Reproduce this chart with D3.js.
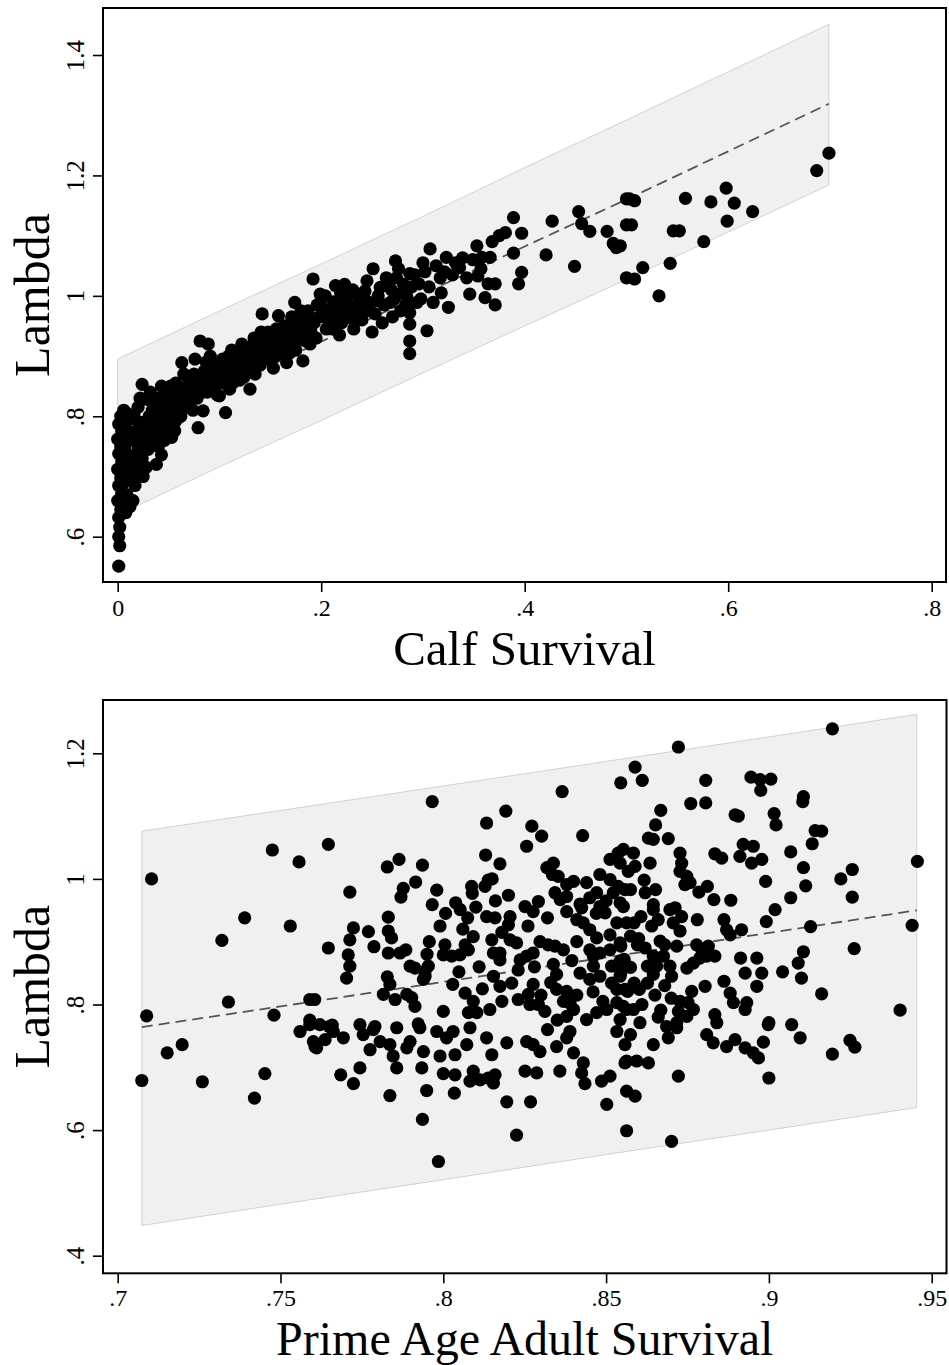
<!DOCTYPE html>
<html>
<head>
<meta charset="utf-8">
<script src="https://cdnjs.cloudflare.com/ajax/libs/d3/7.8.5/d3.min.js"></script>
<style>
body { margin: 0; background: #fff; }
text { font-family: "Liberation Serif", "Times New Roman", serif; fill: #000; }
</style>
</head>
<body>
<svg width="949" height="1365"></svg>
<script>
// ---- data ----
var calfTicksX = [0, 0.2, 0.4, 0.6, 0.8];
var calfTicksY = [0.6, 0.8, 1.0, 1.2, 1.4];
var primeTicksX = [0.70, 0.75, 0.80, 0.85, 0.90, 0.95];
var primeTicksY = [0.4, 0.6, 0.8, 1.0, 1.2];

// prediction band / fitted line, top panel
var calfBandX = [0, 0.1, 0.2, 0.3, 0.4, 0.5, 0.6, 0.699];
var calfBandHi = [0.895, 0.975, 1.053, 1.132, 1.213, 1.292, 1.372, 1.451];
var calfBandLo = [0.636, 0.716, 0.793, 0.872, 0.950, 1.027, 1.106, 1.184];
var calfFit = [0.766, 0.845, 0.924, 1.003, 1.082, 1.160, 1.240, 1.319];

// prediction band / fitted line, bottom panel
var primeBandX = [0.7074, 0.75, 0.80, 0.85, 0.90, 0.9454];
var primeBandHi = [1.076, 1.109, 1.148, 1.187, 1.226, 1.262];
var primeBandLo = [0.448, 0.482, 0.521, 0.561, 0.600, 0.636];
var primeFit = [0.764, 0.797, 0.836, 0.875, 0.914, 0.950];

// [calf survival, lambda]
var calfPoints = [
[.001,.551],[.002,.585],[.001,.600],[.002,.616],[.001,.632],[.003,.645],[.000,.660],[.004,.672],[.001,.685],[.003,.698],[.000,.712],[.004,.725],[.001,.738],[.003,.750],[.000,.762],[.004,.775],[.001,.787],[.003,.800],[.006,.810],
[.008,.640],[.007,.655],[.009,.670],[.006,.690],[.010,.705],[.008,.720],[.011,.735],[.007,.750],[.010,.765],[.008,.780],[.012,.795],[.009,.805],
[.015,.660],[.017,.685],[.014,.700],[.019,.715],[.016,.730],[.020,.745],[.015,.760],[.018,.775],[.021,.790],[.016,.800],[.020,.815],[.022,.830],
[.025,.700],[.028,.715],[.024,.730],[.030,.745],[.027,.760],[.033,.775],[.026,.790],[.031,.800],[.029,.828],[.024,.853],[.034,.810],[.032,.840],
[.038,.720],[.043,.736],[.040,.750],[.046,.760],[.038,.775],[.044,.790],[.041,.805],[.048,.815],[.043,.850],[.039,.830],[.047,.840],[.050,.780],
[.053,.765],[.056,.776],[.058,.795],[.055,.810],[.062,.800],[.060,.825],[.066,.815],[.063,.840],[.057,.855],[.068,.850],[.063,.889],[.065,.870],[.070,.830],[.052,.835],
[.074,.810],[.079,.781],[.084,.809],[.072,.845],[.078,.830],[.082,.855],[.088,.840],[.075,.870],[.085,.875],[.081,.925],[.089,.920],[.093,.860],[.095,.885],[.098,.835],[.091,.900],[.076,.895],
[.106,.806],[.100,.834],[.104,.855],[.110,.845],[.115,.870],[.108,.885],[.120,.860],[.118,.895],[.125,.880],[.112,.910],[.128,.905],[.130,.845],[.122,.920],
[.135,.870],[.140,.885],[.138,.905],[.145,.895],[.150,.910],[.143,.925],[.155,.900],[.148,.940],[.158,.920],[.142,.970],[.158,.967],[.153,.880],[.160,.945],
[.166,.889],[.182,.892],[.165,.915],[.170,.930],[.175,.910],[.174,.989],[.178,.945],[.185,.925],[.172,.955],[.188,.960],[.180,.975],[.186,.953],[.190,.940],
[.192,1.028],[.199,1.003],[.200,.983],[.215,.970],[.209,.958],[.214,1.017],[.195,.930],[.205,.945],[.212,.990],[.218,.935],[.198,.965],[.220,.955],
[.223,1.019],[.228,1.003],[.228,.964],[.245,1.025],[.243,1.008],[.236,.986],[.248,.975],[.255,.992],[.258,1.014],[.232,.945],[.240,.960],[.250,.940],[.260,.955],[.251,1.045],
[.266,1.019],[.274,1.030],[.281,1.019],[.284,1.000],[.294,.989],[.268,.989],[.273,1.058],[.287,1.037],[.287,.972],[.287,.953],[.287,.925],[.287,.904],[.270,.965],[.278,.975],[.300,1.055],
[.304,.942],[.307,1.078],[.310,.989],[.317,1.030],[.323,1.064],[.325,.981],[.336,1.047],[.339,1.063],[.346,1.003],[.353,1.083],[.354,1.033],[.358,1.064],[.361,.997],[.366,1.064],[.371,1.020],[.371,.985],[.375,1.100],[.381,1.105],[.389,1.130],[.389,1.071],[.394,1.020],[.397,1.104],[.397,1.039],
[.421,1.068],[.427,1.124],[.449,1.049],[.453,1.140],[.456,1.120],[.464,1.107],[.481,1.107],[.487,1.087],[.490,1.080],[.494,1.083],[.500,1.161],[.500,1.118],[.500,1.030],[.503,1.161],[.505,1.118],[.508,1.158],[.508,1.028],[.516,1.047],[.532,1.000],[.543,1.054],[.546,1.108],[.552,1.108],[.558,1.162],[.576,1.090],[.583,1.156],[.598,1.179],[.599,1.124],[.606,1.154],[.624,1.140],[.687,1.208],[.699,1.237],
[.012,.650],[.013,.720],[.005,.700],[.018,.700],[.022,.760],[.026,.745],[.029,.775],[.035,.760],[.035,.790],[.037,.820],[.045,.775],[.049,.800],[.050,.825],[.052,.850],[.056,.790],[.059,.810],[.061,.840],[.067,.830],[.069,.865],[.071,.815],[.073,.860],[.077,.850],[.080,.865],[.083,.840],[.086,.855],[.087,.890],[.090,.870],[.092,.845],[.096,.870],[.099,.855],
[.101,.875],[.103,.895],[.107,.865],[.109,.900],[.113,.855],[.116,.885],[.119,.875],[.121,.905],[.124,.865],[.127,.890],[.131,.915],[.133,.885],[.134,.930],[.137,.895],[.139,.920],[.141,.940],[.144,.910],[.147,.925],[.149,.895],[.152,.930],[.156,.945],[.159,.905],[.162,.930],[.164,.950],[.167,.940],[.169,.905],[.171,.965],[.176,.925],[.179,.960],[.181,.935],[.184,.945],[.187,.975],[.189,.920],[.193,.955],[.196,.985],
[.202,.965],[.204,1.000],[.207,.975],[.211,.945],[.216,.990],[.219,1.005],[.221,.975],[.225,.990],[.229,.980],[.231,1.010],[.234,.965],[.238,1.000],[.242,.975],[.246,.990],[.253,.970],[.256,1.000],[.262,.985],[.264,1.030],[.269,1.010],[.272,.995],[.276,1.045],[.279,1.005],[.283,.985],[.289,1.015],[.292,1.035],[.296,1.020],[.298,.995],[.302,1.040],[.306,1.015],[.313,1.050],[.318,1.005],[.321,1.040],[.329,1.035],[.332,1.055],[.343,1.030],[.349,1.060],[.357,1.045],[.364,1.020],[.368,1.090]
];

// [prime age adult survival, lambda]
var primePoints = [
[.7104,1.000],[.7089,.782],[.7340,.804],[.7320,.902],[.7390,.938],[.7475,1.046],[.7557,1.027],[.7530,.925],[.7480,.783],[.7590,.808],[.7605,.808],[.7590,.775],[.7647,1.055],[.7647,.890],[.7650,.765],
[.7074,.679],[.7152,.723],[.7198,.736],[.7260,.677],[.7452,.690],[.7420,.651],[.7606,.733],[.7637,.744],[.7590,.768],
[.7713,.979],[.7828,1.019],[.7864,1.031],[.7936,1.022],[.7966,1.123],[.7870,.971],[.7877,.985],[.7915,.995],[.7980,.982],[.7966,.959],[.8007,.945],[.8038,.962],[.8052,.951],[.8075,.938],[.7831,.939],[.7831,.917],[.7841,.906],[.7724,.922],[.7770,.916],[.7713,.903],
[.7708,.879],[.7713,.861],[.7703,.842],[.7787,.892],[.7831,.882],[.7867,.882],[.7885,.887],[.7898,.861],[.7913,.858],[.7944,.853],[.7954,.861],[.7957,.900],[.8005,.895],[.8000,.879],[.8026,.877],[.8051,.879],[.8067,.895],[.8077,.887],[.8092,.908],[.8048,.852],[.8029,.832],[.7944,.845],[.7939,.840],[.7828,.844],[.7836,.832],[.7816,.816],[.7852,.808],[.7888,.816],[.7903,.811],[.7913,.797],[.7659,.767],[.7790,.765],[.7857,.763],[.7923,.769],[.8000,.789],[.8067,.818],[.8092,.805],[.8077,.787],[.8103,.787],[.8143,.792],
[.8133,1.089],[.8192,1.108],[.8130,1.038],[.8174,1.024],[.8087,.988],[.8089,.977],[.8128,.988],[.8138,.998],[.8150,1.000],[.8200,.974],[.8133,.940],[.8159,.938],[.8205,.940],[.8200,.927],[.8149,.903],[.8154,.882],[.8174,.882],[.8174,.871],[.8205,.903],[.8225,.898],[.8236,.871],[.8256,.877],[.8276,.882],[.8154,.845],[.8174,.829],[.8210,.834],[.8230,.808],[.8261,.816],[.8276,.832],[.8266,.800],[.8292,.800],[.8312,.789],
[.8251,.956],[.8276,.948],[.8292,.964],[.8256,1.052],[.8272,1.084],[.8302,1.068],[.8318,1.018],[.8338,1.025],[.8320,.938],[.8297,.900],[.8322,.895],[.8343,.893],[.8369,.887],[.8338,.864],[.8348,.848],[.8348,.824],[.8379,.821],[.8369,.805],[.8389,.802],[.8400,.792],[.8379,.781],[.8365,1.139],[.8428,1.069],[.8335,1.007],[.8353,1.004],[.8379,.991],[.8400,.996],[.8379,.972],[.8379,.948],[.8343,.978],[.8359,.967],
[.8410,.935],[.8430,.930],[.8450,.919],[.8425,.954],[.8450,.970],[.8471,.978],[.8440,.994],[.8481,1.007],[.8512,1.031],[.8537,1.041],[.8543,1.025],[.8512,.999],[.8537,.988],[.8522,.978],[.8481,.956],[.8497,.946],[.8533,.930],[.8512,.911],[.8471,.906],[.8450,.887],[.8461,.877],[.8481,.882],[.8512,.887],[.8543,.898],[.8543,.869],[.8517,.861],[.8461,.861],[.8450,.840],[.8481,.845],[.8517,.834],[.8543,.845],[.8558,.824],[.8533,.824],[.8533,.803],[.8502,.792],[.8471,.787],[.8440,.776],[.8543,.776],[.8563,.792],[.8558,.866],[.8563,.930],[.8558,.983],[.8568,1.012],[.8553,.956],[.8545,1.153],
[.9195,1.239],[.8722,1.210],[.8589,1.178],[.8611,1.157],[.8806,1.157],[.8760,1.120],[.8806,1.121],[.8945,1.162],[.8973,1.158],[.9006,1.159],[.8975,1.141],[.9106,1.131],[.9104,1.123],[.8896,1.102],[.8906,1.100],[.9016,1.104],[.9022,1.086],[.8668,1.109],[.8652,1.086],[.8630,1.065],[.8645,1.063],[.8691,1.064],[.9142,1.077],[.9162,1.076],[.9133,1.056],[.8921,1.055],[.8952,1.052],[.8911,1.036],[.8947,1.025],[.8978,1.031],[.9067,1.043],[.8834,1.040],[.8855,1.033],[.8727,1.041],[.8732,1.025],[.8727,1.012],[.8748,1.004],[.8758,.994],[.8742,.991],[.8635,1.025],[.8589,1.020],[.8617,.998],[.8652,.983],[.8785,.979],[.8811,.988],[.8831,.967],[.8883,.966],[.8990,.996],[.9106,1.018],[.9113,.989],[.9067,.970],[.9221,1.000],[.9256,1.015],[.9256,.971],[.9456,1.028],[.9440,.926],[.9262,.889],[.9128,.924],[.9019,.951],[.8992,.932],[.9106,.884],[.9090,.866],[.9100,.842],[.9042,.852],[.9162,.817],[.9403,.791],
[.8862,.935],[.8870,.919],[.8881,.911],[.8916,.919],[.8913,.874],[.8927,.850],[.8963,.874],[.8978,.850],[.8963,.829],[.8862,.837],[.8881,.818],[.8891,.803],[.8932,.803],[.8927,.792],[.9000,.771],[.9070,.768],[.8780,.935],[.8778,.895],[.8794,.887],[.8814,.893],[.8834,.877],[.8809,.877],[.8788,.874],[.8768,.866],[.8748,.858],[.8804,.829],[.8763,.821],[.8752,.803],[.8768,.792],[.8727,.805],[.8722,.789],[.8748,.781],[.8668,.791],[.8717,.771],[.8686,.765],
[.8701,.845],[.8696,.861],[.8676,.877],[.8680,.895],[.8666,.901],[.8717,.893],[.8727,.917],[.8706,.930],[.8732,.940],[.8696,.951],[.8712,.954],[.8645,.951],[.8607,.940],[.8586,.930],[.8575,.909],[.8596,.895],[.8545,.893],[.8555,.872],[.8575,.859],[.8545,.850],[.8586,.834],[.8566,.821],[.8602,.824],[.8627,.834],[.8645,.848],[.8655,.861],[.8645,.877],[.8627,.861],[.8553,1.047],[.8584,1.041],[.8620,.978],[.8645,.959],[.8575,.983],[.8543,.962],[.8553,.797],[.8584,.792],[.8604,.771],[.8834,.784],[.8840,.771],
[.7985,.550],[.8225,.592],[.7936,.617],[.7836,.655],[.8034,.659],[.7949,.663],[.8195,.645],[.8268,.645],[.8502,.641],[.8563,.599],[.8563,.662],[.7685,.688],[.7724,.674],[.7744,.699],[.7857,.699],[.7846,.718],[.7836,.736],[.7934,.699],[.7939,.725],[.7888,.731],[.7898,.741],[.7775,.728],[.7806,.741],[.7754,.752],[.7693,.747],[.7601,.741],[.7611,.731],[.8000,.690],[.8036,.688],[.8082,.678],[.8092,.694],[.8113,.680],[.7990,.718],[.8036,.720],[.8072,.736],[.8010,.747],[.8030,.757],[.8138,.683],[.8154,.675],[.8159,.688],[.8149,.720],[.8133,.747],[.8195,.739],[.8256,.741],[.8276,.736],[.8297,.725],[.8348,.733],[.8251,.694],[.8287,.691],[.8358,.694],[.8400,.723],[.8430,.707],[.8425,.691],[.8435,.674],[.8379,.747],[.8389,.757],[.8486,.678],[.8512,.686],[.8558,.707],[.8558,.736],[.8533,.757],[.7560,.757],[.7621,.768],[.7662,.757],[.7744,.768],[.7785,.760],[.7928,.763],[.7980,.757],[.8082,.763],
[.8701,.582],[.9000,.683],[.8722,.686],[.9195,.721],[.9249,.743],[.9264,.732],[.8589,.654],[.8563,.710],[.8594,.710],[.8630,.707],[.8575,.752],[.8645,.736],[.8691,.747],[.8717,.763],[.8809,.752],[.8829,.739],[.8870,.733],[.8896,.744],[.8927,.731],[.8952,.723],[.8968,.715],[.8983,.740],[.8998,.768],[.9096,.747],
[.8320,.760],[.8350,.775],[.8300,.815],[.8330,.835],[.8410,.815],[.8420,.850],[.8395,.870],[.8410,.900],[.8460,.820],[.8490,.805],[.8420,.960],[.8470,.945],[.8500,.965],[.8600,.905],[.8620,.890],[.8640,.925],[.8660,.935],[.8610,.800],[.8650,.815],[.8680,.830],[.8660,.780],[.8700,.810],[.8230,.855],[.8260,.925],[.8280,.860],[.8180,.915],[.8110,.860],[.8060,.920],[.7990,.925],[.7950,.880],[.8120,.825],[.8180,.805],[.8100,.955],[.8160,.965]
];

// ---- drawing ----
var svg = d3.select("svg");

// Stata style labels: drop the leading zero
function stataFmt(d) {
    var s = String(+d.toFixed(2));
    return s.indexOf("0.") === 0 ? s.slice(1) : s;
}

function drawPanel(p) {
    var x = d3.scaleLinear().domain(p.xDom).range(p.xRange);
    var y = d3.scaleLinear().domain(p.yDom).range(p.yRange);
    var g = svg.append("g");

    var band = p.bandX.map(function (d, i) {
        return {x: d, lo: p.bandLo[i], hi: p.bandHi[i], fit: p.fit[i]};
    });

    g.append("path")
        .datum(band)
        .attr("fill", "#f0f0f0")
        .attr("stroke", "#d2d2d2")
        .attr("stroke-width", 1)
        .attr("d", d3.area()
            .x(function (d) { return x(d.x); })
            .y0(function (d) { return y(d.lo); })
            .y1(function (d) { return y(d.hi); }));

    g.append("path")
        .datum(band)
        .attr("fill", "none")
        .attr("stroke", "#555")
        .attr("stroke-width", 1.8)
        .attr("stroke-dasharray", "11,6")
        .attr("d", d3.line()
            .x(function (d) { return x(d.x); })
            .y(function (d) { return y(d.fit); }));

    g.selectAll(".dot")
        .data(p.points)
        .enter().append("circle")
        .attr("class", "dot")
        .attr("cx", function (d) { return x(d[0]); })
        .attr("cy", function (d) { return y(d[1]); })
        .attr("r", 6.6)
        .attr("fill", "#000");

    // axes
    var ay = g.append("g")
        .attr("transform", "translate(" + p.frame.left + ",0)")
        .call(d3.axisLeft(y).tickValues(p.yTicks).tickSize(10).tickFormat(stataFmt));
    ay.select(".domain").remove();
    ay.selectAll("line").attr("stroke", "#000").attr("stroke-width", 1.6);
    ay.selectAll("text")
        .attr("x", 0).attr("dy", 0)
        .attr("text-anchor", "middle")
        .attr("transform", "translate(-19.5,0) rotate(-90)")
        .style("font-size", "25px")
        .attr("font-family", null);

    var ax = g.append("g")
        .attr("transform", "translate(0," + p.frame.bottom + ")")
        .call(d3.axisBottom(x).tickValues(p.xTicks).tickSize(10).tickFormat(stataFmt));
    ax.select(".domain").remove();
    ax.selectAll("line").attr("stroke", "#000").attr("stroke-width", 1.6);
    ax.selectAll("text")
        .attr("y", p.xLabelOffset).attr("dy", 0)
        .style("font-size", p.xLabelSize)
        .attr("font-family", null);

    // frame
    g.append("rect")
        .attr("x", p.frame.left)
        .attr("y", p.frame.top)
        .attr("width", p.frame.right - p.frame.left)
        .attr("height", p.frame.bottom - p.frame.top)
        .attr("fill", "none")
        .attr("stroke", "#000")
        .attr("stroke-width", 2);

    // titles
    var cx = (p.frame.left + p.frame.right) / 2;
    g.append("text")
        .attr("x", cx)
        .attr("y", p.xTitleY)
        .attr("text-anchor", "middle")
        .style("font-size", p.xTitleSize)
        .text(p.xTitle);

    g.append("text")
        .attr("transform", "translate(48.5," + ((p.frame.top + p.frame.bottom) / 2) + ") rotate(-90)")
        .attr("text-anchor", "middle")
        .style("font-size", "50px")
        .text("Lambda");
}

drawPanel({
    frame: {left: 103, right: 946, top: 8, bottom: 582},
    xDom: [0, 0.8], xRange: [117.7, 931.7],
    yDom: [0.6, 1.4], yRange: [536.7, 55],
    xTicks: calfTicksX, yTicks: calfTicksY,
    bandX: calfBandX, bandLo: calfBandLo, bandHi: calfBandHi, fit: calfFit,
    points: calfPoints,
    xLabelOffset: 34, xLabelSize: "24px",
    xTitle: "Calf Survival", xTitleY: 665, xTitleSize: "49px"
});

drawPanel({
    frame: {left: 103, right: 946.5, top: 700, bottom: 1273.3},
    xDom: [0.7, 0.95], xRange: [117.7, 931.7],
    yDom: [0.4, 1.2], yRange: [1255.7, 753.3],
    xTicks: primeTicksX, yTicks: primeTicksY,
    bandX: primeBandX, bandLo: primeBandLo, bandHi: primeBandHi, fit: primeFit,
    points: primePoints,
    xLabelOffset: 33, xLabelSize: "24px",
    xTitle: "Prime Age Adult Survival", xTitleY: 1354.5, xTitleSize: "48px"
});
</script>
</body>
</html>
